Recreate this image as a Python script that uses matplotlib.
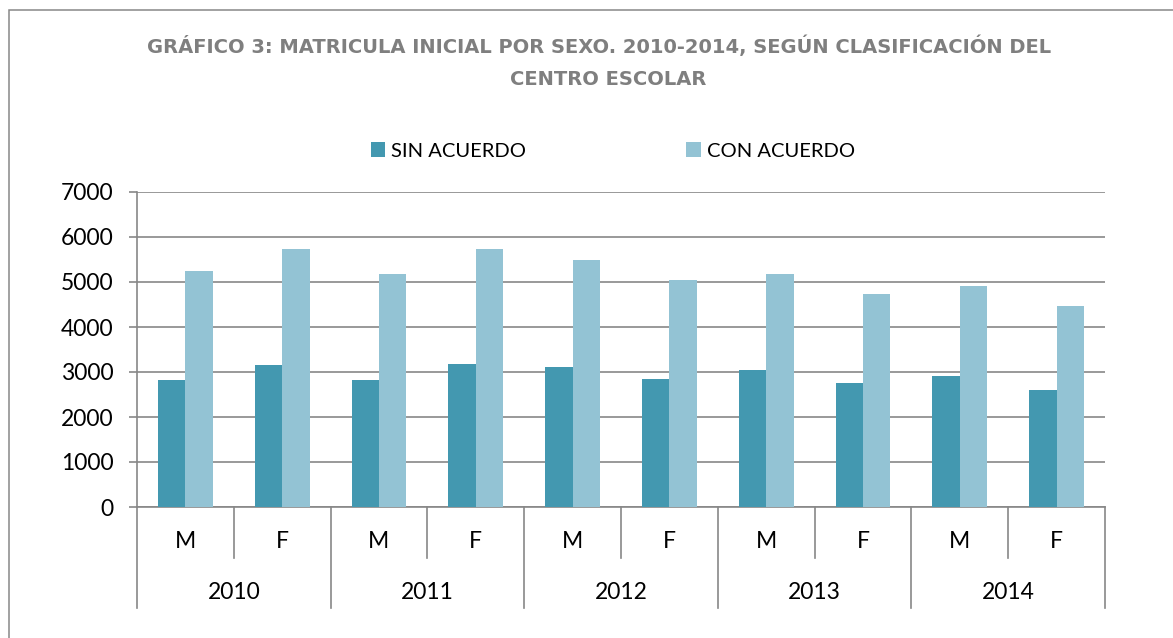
import matplotlib
matplotlib.use('Agg')
import matplotlib.pyplot as plt
from matplotlib.patches import Rectangle
import numpy as np

# ---- data ----
years = ['2010', '2011', '2012', '2013', '2014']
sexes = ['M', 'F']
sin_acuerdo = [2820, 3165, 2815, 3172, 3120, 2845, 3053, 2748, 2911, 2606]
con_acuerdo = [5235, 5725, 5180, 5725, 5490, 5040, 5175, 4728, 4907, 4460]
series_names = ['SIN ACUERDO', 'CON ACUERDO']
title_lines = ['GRÁFICO 3: MATRICULA INICIAL POR SEXO. 2010-2014, SEGÚN CLASIFICACIÓN DEL',
               'CENTRO ESCOLAR']
yticks = [0, 1000, 2000, 3000, 4000, 5000, 6000, 7000]

# ---- style ----
W, H = 1173, 638
plt.rcParams['font.family'] = ['Lato', 'DejaVu Sans']
dark = '#4398B0'
light = '#93C3D4'
grey = '#878787'

fig = plt.figure(figsize=(W / 100, H / 100), dpi=100)

# outer chart frame
fig.add_artist(Rectangle((9 / W, -0.2), 1.2, 1.2 - 10 / H,
                         transform=fig.transFigure, fill=False,
                         edgecolor=grey, linewidth=1.1))

ax = fig.add_axes([137 / W, 1 - 507 / H, (1105 - 137) / W, (507 - 192) / H])

x = np.arange(len(sin_acuerdo))
bw = 0.284
ax.bar(x - bw / 2, sin_acuerdo, bw, color=dark, label=series_names[0], zorder=3)
ax.bar(x + bw / 2, con_acuerdo, bw, color=light, label=series_names[1], zorder=3)

ax.set_xlim(-0.5, len(x) - 0.5)
ax.set_ylim(yticks[0], yticks[-1])
ax.set_yticks(yticks)
ax.yaxis.grid(True, color=grey, linewidth=1.2)
ax.set_axisbelow(True)
for s in ['top', 'right']:
    ax.spines[s].set_visible(False)
for s in ['left', 'bottom']:
    ax.spines[s].set_color(grey)
    ax.spines[s].set_linewidth(1.2)
ax.tick_params(axis='y', length=6, width=1.2, color=grey, pad=11,
               labelsize=16.5, labelcolor='black')
ax.set_xticks([])

# multi-level category axis
trans = ax.get_xaxis_transform()
n = len(x)
for i in range(n + 1):
    xb = -0.5 + i
    y_end = -0.3206 if i % 2 == 0 else -0.162
    ax.plot([xb, xb], [0, y_end], transform=trans, color=grey,
            linewidth=1.2, clip_on=False)
for i in range(n):
    ax.text(i, -0.108, sexes[i % 2], transform=trans, ha='center', va='center',
            fontsize=16.5, color='black')
for j, yr in enumerate(years):
    ax.text(2 * j + 0.5, -0.272, yr, transform=trans, ha='center', va='center',
            fontsize=16.5, color='black')

# title
tfont = dict(family=['DejaVu Sans'], fontweight='bold',
             color='#7f7f7f', fontsize=14.0)
fig.text(599.5 / W, 1 - 46.5 / H, title_lines[0], ha='center', va='center', **tfont)
fig.text(608 / W, 1 - 79.5 / H, title_lines[1], ha='center', va='center', **tfont)

# legend
fig.legend(loc='center', bbox_to_anchor=(613 / W, 1 - 151 / H), ncol=2,
           frameon=False, fontsize=14.5, handlelength=0.72, handleheight=0.72,
           handletextpad=0.3, columnspacing=7.95)

fig.savefig('out.png', dpi=100)
